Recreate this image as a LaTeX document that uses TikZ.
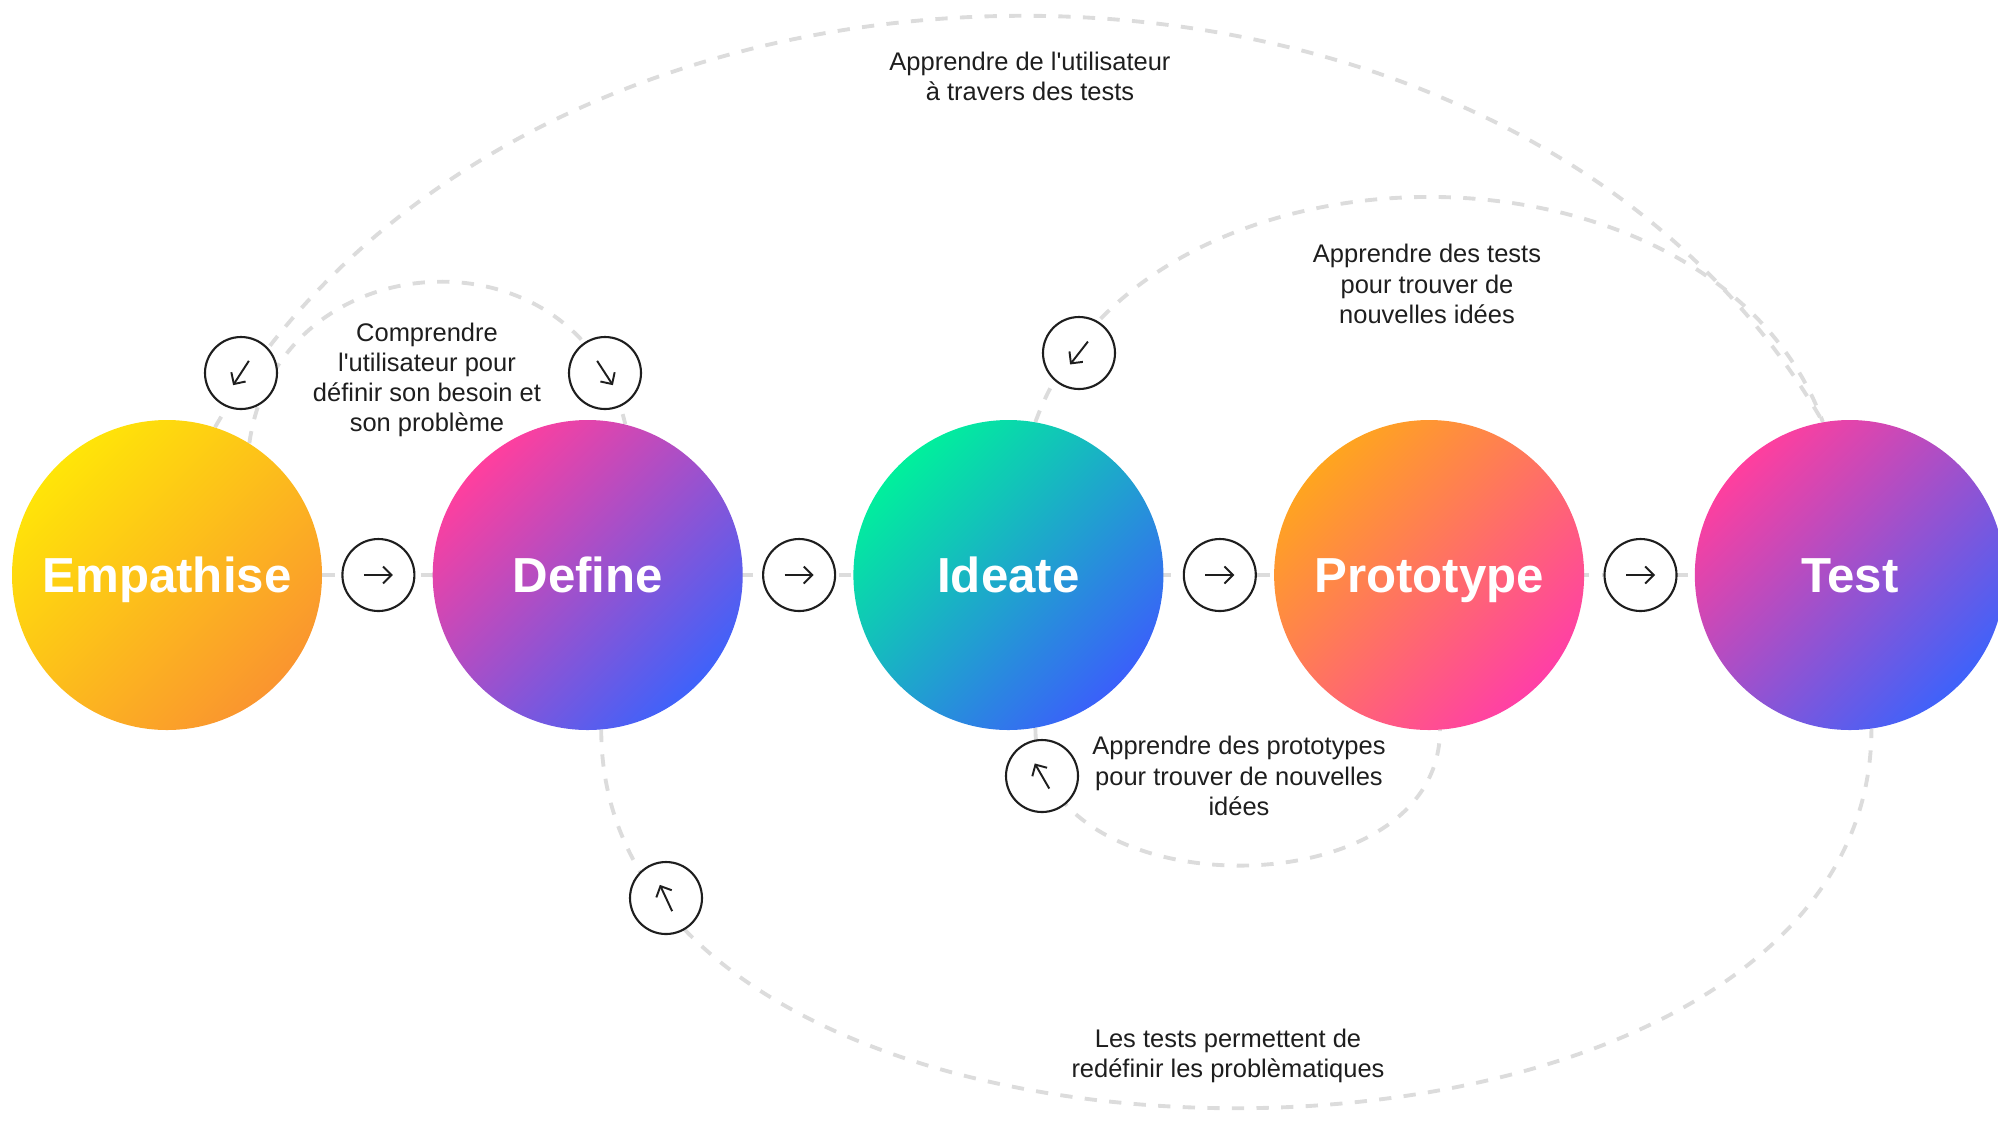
\documentclass[tikz,border=0pt]{standalone}
\usepackage{fontspec}
\setmainfont{Liberation Sans}[Ligatures=TeXOff]
\usetikzlibrary{positioning,backgrounds,arrows.meta}

\definecolor{ink}{HTML}{1E1E1E}
\definecolor{loopgray}{HTML}{DCDCDC}
\definecolor{empTop}{HTML}{FFE508}
\definecolor{empBot}{HTML}{FA952F}
\definecolor{defTop}{HTML}{FF3F9E}
\definecolor{defBot}{HTML}{3F62FA}
\definecolor{ideTop}{HTML}{00F09C}
\definecolor{ideBot}{HTML}{3A60FA}
\definecolor{proTop}{HTML}{FFA51F}
\definecolor{proBot}{HTML}{FF3FA6}

\tikzset{
  stage/.style 2 args = {shape=circle, minimum size=6.2cm, inner sep=0pt,
                         top color=#1, bottom color=#2, shading angle=45,
                         text height=20pt, text depth=0pt,
                         text=white, font=\fontsize{28}{30}\selectfont\bfseries},
  btn/.style          = {shape=circle, draw=ink, line width=1.2pt, fill=white,
                         minimum size=1.44cm, inner sep=0pt,
                         path picture={\draw[icon]
                           ([shift={({#1+180}:2.9mm)}]path picture bounding box.center) --
                           ([shift={(#1:2.9mm)}]path picture bounding box.center);}},
  icon/.style         = {ink, line width=1.1pt, -{Straight Barb[length=1.7mm, width=3.4mm]}},
  note/.style         = {align=center, text=ink, font=\fontsize{14.5}{17.2}\selectfont},
  loopline/.style     = {draw=loopgray, line width=2.2pt, dash pattern=on 7pt off 7pt}
}

\begin{document}
\begin{tikzpicture}
\useasboundingbox (0,0) rectangle (39.96,-22.56);

\node[stage={empTop}{empBot}] (empathise) at (3.34,-11.5) {Empathise};
\node[stage={defTop}{defBot}, right=2.2cm of empathise] (define) {Define};
\node[stage={ideTop}{ideBot}, right=2.2cm of define] (ideate) {Ideate};
\node[stage={proTop}{proBot}, right=2.2cm of ideate] (prototype) {Prototype};
\node[stage={defTop}{defBot}, right=2.2cm of prototype] (test) {Test};

\node[btn=0, right=0.38cm of empathise] (next1) {};
\node[btn=0, right=0.38cm of define] (next2) {};
\node[btn=0, right=0.38cm of ideate] (next3) {};
\node[btn=0, right=0.38cm of prototype] (next4) {};

\node[btn=237] (back1) at (4.82,-7.46) {};
\node[btn=-57] (back2) at (12.1,-7.46) {};
\node[btn=232] (back3) at (21.58,-7.06) {};
\node[btn=120] (back4) at (20.84,-15.52) {};
\node[btn=115] (back5) at (13.32,-17.96) {};

\node[note] (usertests) at (20.6,-1.52) {Apprendre de l'utilisateur\\à travers des tests};
\node[note] (understand) at (8.54,-7.6) {Comprendre\\l'utilisateur pour\\définir son besoin et\\son problème};
\node[note] (testideas) at (28.54,-5.68) {Apprendre des tests\\pour trouver de\\nouvelles idées};
\node[note] (protoideas) at (24.78,-15.52) {Apprendre des prototypes\\pour trouver de nouvelles\\idées};
\node[note] (redefine) at (24.56,-21.12) {Les tests permettent de\\redéfinir les problèmatiques};

\begin{scope}[on background layer]
  \draw[loopline] (empathise) -- (test);
  \draw[loopline] (empathise.72) to[out=60, in=120] (test.100);
  \draw[loopline] (empathise.58) to[out=82, in=103, looseness=1.4] (define.76);
  \draw[loopline] (ideate.80) to[out=70, in=110, looseness=1.04] (test.100);
  \draw[loopline] (ideate.-80) to[out=-90, in=-90, looseness=1.15] (prototype.-86);
  \draw[loopline] (define.-85) to[out=-90, in=-90, looseness=1.02] (test.-82);
\end{scope}
\end{tikzpicture}
\end{document}
